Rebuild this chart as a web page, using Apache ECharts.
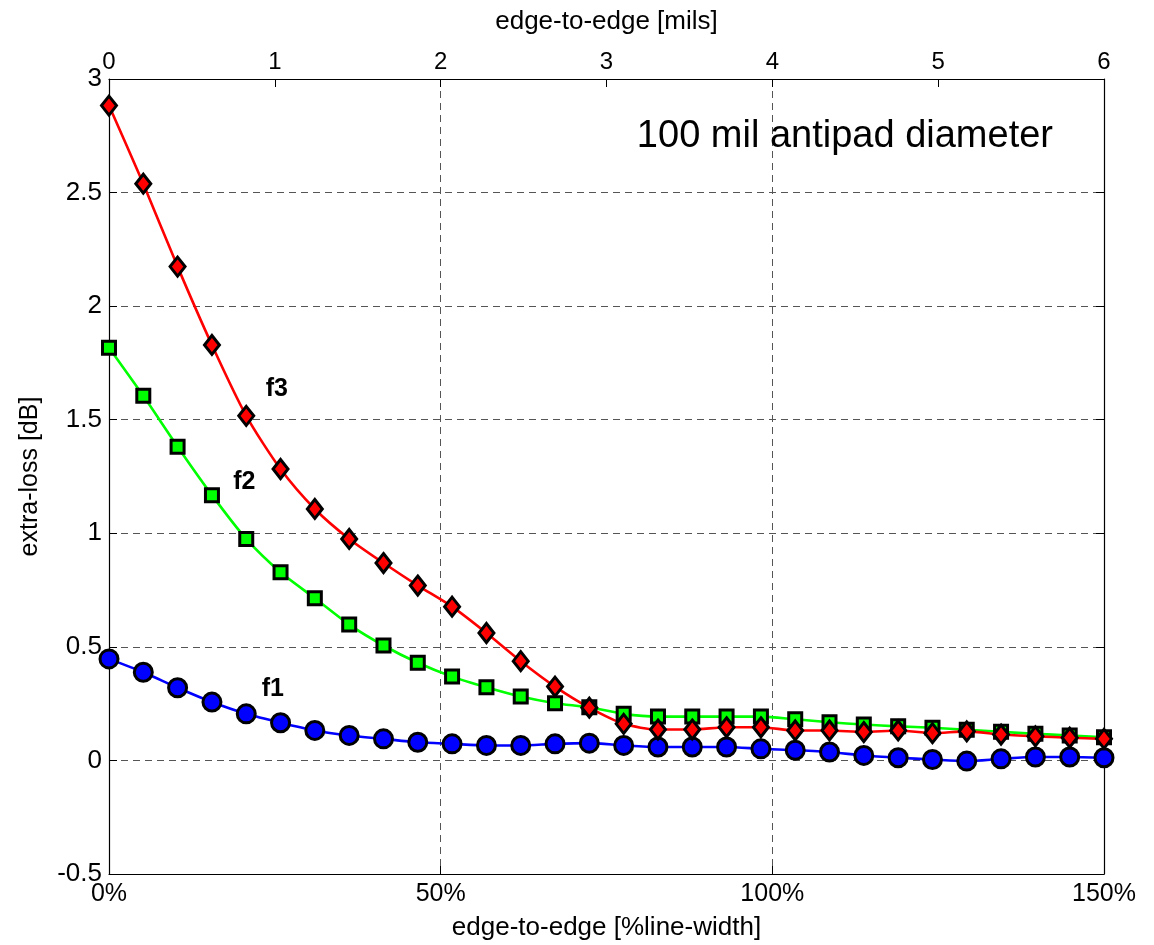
<!DOCTYPE html>
<html>
<head>
<meta charset="utf-8">
<script src="https://cdn.jsdelivr.net/npm/echarts@6/dist/echarts.min.js"></script>
<style>
  html, body { margin: 0; padding: 0; background: #ffffff; }
  #chart { width: 1154px; height: 945px; }
</style>
</head>
<body>
<div id="chart"></div>
<script>
// edge-to-edge spacing as % of line width (30 measurement points)
const xPct = [0, 5.17, 10.34, 15.52, 20.69, 25.86, 31.03, 36.21, 41.38, 46.55,
              51.72, 56.90, 62.07, 67.24, 72.41, 77.59, 82.76, 87.93, 93.10, 98.28,
              103.45, 108.62, 113.79, 118.97, 124.14, 129.31, 134.48, 139.66, 144.83, 150];

// extra-loss [dB]
const f1 = [0.447, 0.388, 0.320, 0.257, 0.205, 0.166, 0.132, 0.110, 0.095, 0.080,
            0.073, 0.066, 0.066, 0.073, 0.076, 0.066, 0.059, 0.059, 0.059, 0.051,
            0.045, 0.037, 0.022, 0.012, 0.004, -0.003, 0.007, 0.015, 0.015, 0.012];
const f2 = [1.817, 1.605, 1.381, 1.168, 0.975, 0.828, 0.714, 0.598, 0.506, 0.430,
            0.369, 0.322, 0.281, 0.252, 0.234, 0.205, 0.193, 0.193, 0.193, 0.193,
            0.181, 0.168, 0.158, 0.150, 0.144, 0.135, 0.126, 0.117, 0.110, 0.102];
const f3 = [2.883, 2.539, 2.174, 1.829, 1.517, 1.283, 1.107, 0.975, 0.869, 0.770,
            0.677, 0.561, 0.437, 0.325, 0.232, 0.161, 0.136, 0.136, 0.146, 0.146,
            0.132, 0.132, 0.125, 0.132, 0.120, 0.128, 0.114, 0.106, 0.100, 0.095];

// curve annotation anchors [x %, y dB]
const labelF1 = [24.7, 0.312];
const labelF2 = [20.4, 1.224];
const labelF3 = [25.3, 1.636];

const titleText = '100 mil antipad diameter';
const xBottomName = 'edge-to-edge [%line-width]';
const xTopName = 'edge-to-edge [mils]';
const yName = 'extra-loss [dB]';

const FONT = "'Liberation Sans', Arial, sans-serif";
const FONT_N = "'Liberation Sans Narrow', 'Liberation Sans', Arial, sans-serif";

function pairs(ys) { return xPct.map((x, i) => [x, ys[i]]); }

function annot(txt, coord) {
  return {
    symbol: 'circle', symbolSize: 0, silent: true, animation: false,
    data: [{ coord: coord, value: txt }],
    label: { show: true, position: 'inside', formatter: txt, color: '#000',
             fontFamily: FONT, fontWeight: 'bold', fontSize: 25 }
  };
}

const chart = echarts.init(document.getElementById('chart'), null, { renderer: 'canvas' });

const gridLine = { show: true, lineStyle: { color: '#555', width: 1, type: [7, 5] } };
const axisLineBlack = { show: true, onZero: false, lineStyle: { color: '#000', width: 1.2 } };

chart.setOption({
  animation: false,
  backgroundColor: '#ffffff',
  textStyle: { fontFamily: FONT, color: '#000' },
  title: {
    text: titleText, right: 101, top: 118, padding: 0,
    textStyle: { fontFamily: FONT, fontWeight: 'normal', fontSize: 38, color: '#000' }
  },
  grid: { left: 109, right: 50, top: 79, bottom: 71, containLabel: false, outerBoundsMode: 'none' },
  xAxis: [
    {
      type: 'value', position: 'bottom', min: 0, max: 150, interval: 50,
      name: xBottomName, nameLocation: 'middle', nameGap: 41,
      nameTextStyle: { fontFamily: FONT, fontSize: 26, color: '#000' },
      axisLine: axisLineBlack,
      axisTick: { show: true, inside: true, length: 8, lineStyle: { color: '#000' } },
      axisLabel: { formatter: v => v + '%', fontFamily: FONT, fontSize: 25, color: '#000', margin: 8 },
      splitLine: gridLine
    },
    {
      type: 'value', position: 'top', min: 0, max: 6, interval: 1,
      name: xTopName, nameLocation: 'middle', nameGap: 44,
      nameTextStyle: { fontFamily: FONT, fontSize: 26, color: '#000' },
      axisLine: axisLineBlack,
      axisTick: { show: true, inside: true, length: 8, lineStyle: { color: '#000' } },
      axisLabel: { fontFamily: FONT_N, fontSize: 24, color: '#000', margin: 5 },
      splitLine: { show: false }
    }
  ],
  yAxis: [
    {
      type: 'value', position: 'left', min: -0.5, max: 3, interval: 0.5,
      name: yName, nameLocation: 'middle', nameGap: 66,
      nameTextStyle: { fontFamily: FONT, fontSize: 25, color: '#000' },
      axisLine: axisLineBlack,
      axisTick: { show: true, inside: true, length: 8, lineStyle: { color: '#000' } },
      axisLabel: { fontFamily: FONT, fontSize: 26, color: '#000', margin: 7 },
      splitLine: gridLine
    },
    {
      type: 'value', position: 'right', min: -0.5, max: 3, interval: 0.5,
      axisLine: axisLineBlack,
      axisTick: { show: true, inside: true, length: 8, lineStyle: { color: '#000' } },
      axisLabel: { show: false },
      splitLine: { show: false }
    }
  ],
  series: [
    {
      name: 'f1', type: 'line', xAxisIndex: 0, yAxisIndex: 0, data: pairs(f1),
      smooth: 0.25, symbol: 'circle', symbolSize: 18, showSymbol: true,
      lineStyle: { color: '#0000ff', width: 2.6 },
      itemStyle: { color: '#0000ff', borderColor: '#000', borderWidth: 3 },
      markPoint: annot('f1', labelF1)
    },
    {
      name: 'f2', type: 'line', xAxisIndex: 0, yAxisIndex: 0, data: pairs(f2),
      smooth: 0.25, symbol: 'rect', symbolSize: 13, showSymbol: true,
      lineStyle: { color: '#00ff00', width: 2.6 },
      itemStyle: { color: '#00ff00', borderColor: '#000', borderWidth: 3 },
      markPoint: annot('f2', labelF2)
    },
    {
      name: 'f3', type: 'line', xAxisIndex: 0, yAxisIndex: 0, data: pairs(f3),
      smooth: 0.25, symbol: 'diamond', symbolSize: [15, 19], showSymbol: true,
      lineStyle: { color: '#ff0000', width: 2.6 },
      itemStyle: { color: '#ff0000', borderColor: '#000', borderWidth: 3 },
      markPoint: annot('f3', labelF3)
    }
  ]
});
</script>
</body>
</html>
